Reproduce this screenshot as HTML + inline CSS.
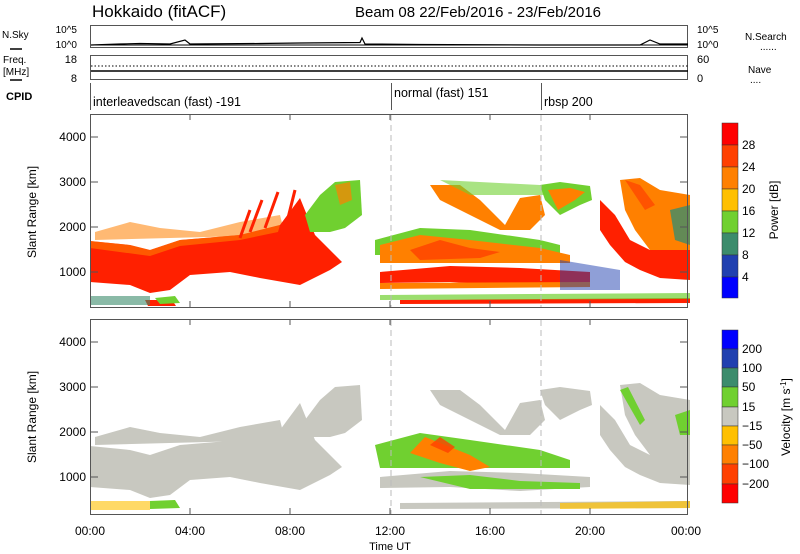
<!DOCTYPE html>
<html><head><meta charset="utf-8"><style>
body{margin:0;background:#fff;}
svg{display:block;font-family:"Liberation Sans",sans-serif;}
</style></head><body>
<svg width="800" height="554" viewBox="0 0 800 554" xmlns="http://www.w3.org/2000/svg">
<defs>
<g id="pw">
 <g fill="#ff8000" opacity="0.55">
  <polygon points="95,232 130,222 160,228 200,232 240,222 280,215 285,235 95,240"/>
 </g>
 <polygon fill="#ff2000" points="90,241 130,245 150,250 180,240 240,235 280,225 300,198 315,235 330,250 342,262 330,270 300,285 260,278 230,272 190,275 170,290 150,293 130,285 90,282"/>
 <polygon fill="#ff8000" opacity="0.6" points="90,241 130,245 150,250 180,240 240,235 280,225 278,232 240,240 180,246 150,256 90,248"/>
 <g stroke="#ff2000" stroke-width="3">
  <line x1="250" y1="232" x2="262" y2="200"/><line x1="265" y1="228" x2="278" y2="192"/><line x1="240" y1="238" x2="250" y2="210"/><line x1="285" y1="230" x2="295" y2="190"/>
 </g>
 <polygon fill="#ff2000" points="145,300 172,300 176,306 148,306"/>
 <polygon fill="#70d030" points="155,298 175,296 180,303 160,304"/>
 <polygon fill="#70d030" points="305,215 320,195 335,182 360,180 362,215 345,228 330,232 310,232"/>
 <polygon fill="#ff8000" opacity="0.7" points="335,185 350,182 352,200 340,205"/>
 <polygon fill="#3c8c6c" opacity="0.6" points="90,296 150,296 150,305 90,305"/>
 <polygon fill="#70d030" points="375,240 420,228 470,230 540,240 560,245 560,255 375,255"/>
 <polygon fill="#ff8000" points="380,245 420,235 470,240 540,248 570,255 570,263 380,263"/>
 <polygon fill="#ff4000" opacity="0.8" points="410,250 440,240 470,248 500,252 480,258 420,260"/>
 <polygon fill="#ff2000" points="380,272 450,266 520,268 590,272 590,282 520,286 450,282 380,283"/>
 <polygon fill="#ff8000" points="380,283 590,282 590,287 380,289"/>
 <polygon fill="#ff2000" points="400,300 690,298 690,303 400,304"/>
 <polygon fill="#70d030" opacity="0.7" points="380,295 690,293 690,299 380,300"/>
 <polygon fill="#ff8000" points="430,185 460,185 480,200 505,225 520,198 540,195 545,215 530,230 500,230 470,215 440,200"/>
 <polygon fill="#70d030" opacity="0.6" points="440,180 540,185 545,195 470,195"/>
 <polygon fill="#2040b0" opacity="0.5" points="560,260 620,270 620,290 560,290"/>
 <polygon fill="#ff2000" points="600,200 615,215 630,240 650,250 690,250 690,280 660,278 640,270 625,262 610,245 600,230"/>
 <polygon fill="#ff8000" points="620,180 640,178 660,190 690,195 690,250 650,250 635,230 625,210"/>
 <polygon fill="#ff4000" opacity="0.7" points="625,180 640,185 655,205 645,210"/>
 <polygon fill="#70d030" points="540,185 560,182 590,186 592,200 580,205 560,215 545,200"/>
 <polygon fill="#ff8000" points="548,190 570,188 585,192 575,200 558,210"/>
 <polygon fill="#3c8c6c" opacity="0.8" points="670,210 690,205 690,245 675,240"/>
</g>
</defs>

<text x="92" y="17" font-size="17">Hokkaido (fitACF)</text>
<text x="355" y="17" font-size="15">Beam 08  22/Feb/2016 - 23/Feb/2016</text>

<!-- N.Sky panel -->
<rect x="90.5" y="25.5" width="597" height="22" fill="none" stroke="#555"/>
<text x="2" y="38" font-size="10">N.Sky</text>
<line x1="10" y1="49" x2="22" y2="49" stroke="#000" stroke-width="1.5"/>
<text x="77" y="33" font-size="10" text-anchor="end">10^5</text>
<text x="77" y="48" font-size="10" text-anchor="end">10^0</text>
<text x="697" y="33" font-size="10">10^5</text>
<text x="697" y="48" font-size="10">10^0</text>
<text x="745" y="40" font-size="10">N.Search</text>
<text x="760" y="50" font-size="10">......</text>
<polyline fill="none" stroke="#000" stroke-width="1.2" points="91,45 120,44 140,43.5 170,44 185,40 190,44 260,43.5 300,43 360,42.5 362,38 365,44 420,44.5 540,45 640,45 650,40 660,44 688,44"/>
<line x1="91" y1="45" x2="688" y2="45" stroke="#000"/>

<!-- Freq panel -->
<rect x="90.5" y="55.5" width="597" height="24" fill="none" stroke="#555"/>
<text x="3" y="63" font-size="10">Freq.</text>
<text x="3" y="75" font-size="10">[MHz]</text>
<line x1="10" y1="80" x2="22" y2="80" stroke="#000" stroke-width="1.5"/>
<text x="77" y="63" font-size="11" text-anchor="end">18</text>
<text x="77" y="82" font-size="11" text-anchor="end">8</text>
<text x="697" y="63" font-size="11">60</text>
<text x="697" y="82" font-size="11">0</text>
<text x="748" y="73" font-size="10">Nave</text>
<text x="750" y="83" font-size="10">....</text>
<line x1="91" y1="66" x2="688" y2="66" stroke="#000" stroke-dasharray="1.5,2"/>
<line x1="91" y1="71" x2="688" y2="71" stroke="#000" stroke-width="1.5"/>

<text x="6" y="100" font-size="11" font-weight="bold">CPID</text>
<line x1="90.5" y1="83" x2="90.5" y2="110" stroke="#555"/>
<line x1="391.5" y1="83" x2="391.5" y2="110" stroke="#555"/>
<line x1="541.5" y1="83" x2="541.5" y2="110" stroke="#555"/>
<text x="93" y="106" font-size="12.5">interleavedscan (fast) -191</text>
<text x="394" y="97" font-size="12.5">normal (fast) 151</text>
<text x="544" y="106" font-size="12.5">rbsp 200</text>

<use href="#pw"/>
<g transform="translate(0,205)">
 <polygon fill="#c8c8c0" points="95,232 130,222 160,228 200,232 240,222 280,215 285,235 95,240"/>
 <polygon fill="#c8c8c0" points="90,241 130,245 150,250 180,240 240,235 280,225 300,198 315,235 330,250 342,262 330,270 300,285 260,278 230,272 190,275 170,290 150,293 130,285 90,282"/>
 <polygon fill="#70d030" points="150,296 175,295 180,303 150,304"/>
 <polygon fill="#c8c8c0" points="305,215 320,195 335,182 360,180 362,215 345,228 330,232 310,232"/>
 <polygon fill="#ffc000" opacity="0.6" points="90,296 150,296 150,305 90,305"/>
 <polygon fill="#70d030" points="375,240 420,228 470,235 540,245 570,255 570,263 380,263"/>
 <polygon fill="#ff8000" points="410,248 425,232 445,240 470,250 490,262 470,266 440,258"/>
 <polygon fill="#ff4000" opacity="0.8" points="430,240 440,232 455,242 448,248"/>
 <polygon fill="#c8c8c0" points="380,272 450,266 520,268 590,272 590,282 520,286 450,282 380,283"/>
 <polygon fill="#70d030" points="420,272 470,270 520,276 580,278 580,284 470,284"/>
 <polygon fill="#c8c8c0" points="400,298 690,296 690,303 400,304"/>
 <polygon fill="#ffc000" opacity="0.7" points="560,298 690,296 690,303 560,304"/>
 <polygon fill="#c8c8c0" points="430,185 460,185 480,200 505,225 520,198 540,195 545,215 530,230 500,230 470,215 440,200"/>
 <polygon fill="#c8c8c0" points="540,185 560,182 590,186 592,200 580,205 560,215 545,200"/>
 <polygon fill="#c8c8c0" points="600,200 615,215 630,240 650,250 690,250 690,280 660,278 640,270 625,262 610,245 600,230"/>
 <polygon fill="#c8c8c0" points="620,180 640,178 660,190 690,195 690,250 650,250 635,230 625,210"/>
 <polygon fill="#70d030" points="620,185 628,182 645,215 640,220"/>
 <polygon fill="#70d030" points="675,210 690,205 690,230 680,230"/>
</g>

<g fill="none" stroke="#555">
 <rect x="90.5" y="114.5" width="597" height="193"/>
 <rect x="90.5" y="319.5" width="597" height="195"/>
</g>
<g stroke="#bbb" stroke-dasharray="6,4">
 <line x1="391" y1="115" x2="391" y2="307"/><line x1="541" y1="115" x2="541" y2="307"/>
 <line x1="391" y1="320" x2="391" y2="514"/><line x1="541" y1="320" x2="541" y2="514"/>
</g>
<g stroke="#555">
 <path d="M90,137h8M90,182h8M90,227h8M90,272h8M688,137h-8M688,182h-8M688,227h-8M688,272h-8"/>
 <path d="M90,342h8M90,387h8M90,432h8M90,477h8M688,342h-8M688,387h-8M688,432h-8M688,477h-8"/>
 <path d="M190,114v6M290,114v6M390,114v6M490,114v6M590,114v6M190,307v-6M290,307v-6M390,307v-6M490,307v-6M590,307v-6"/>
 <path d="M190,319v6M290,319v6M390,319v6M490,319v6M590,319v6M190,514v-6M290,514v-6M390,514v-6M490,514v-6M590,514v-6"/>
</g>
<g font-size="12" text-anchor="end">
 <text x="86" y="141">4000</text><text x="86" y="186">3000</text><text x="86" y="231">2000</text><text x="86" y="276">1000</text>
 <text x="86" y="346">4000</text><text x="86" y="391">3000</text><text x="86" y="436">2000</text><text x="86" y="481">1000</text>
</g>
<text transform="translate(36,212) rotate(-90)" font-size="12" text-anchor="middle">Slant Range [km]</text>
<text transform="translate(36,417) rotate(-90)" font-size="12" text-anchor="middle">Slant Range [km]</text>
<g font-size="12" text-anchor="middle">
 <text x="90" y="535">00:00</text><text x="190" y="535">04:00</text><text x="290" y="535">08:00</text>
 <text x="390" y="535">12:00</text><text x="490" y="535">16:00</text><text x="590" y="535">20:00</text><text x="686" y="535">00:00</text>
 <text x="390" y="550" font-size="11">Time UT</text>
</g>

<g stroke="#333" stroke-width="0.5">
 <rect x="722" y="123" width="16" height="22" fill="#ff0000"/>
 <rect x="722" y="145" width="16" height="22" fill="#ff4000"/>
 <rect x="722" y="167" width="16" height="22" fill="#ff8000"/>
 <rect x="722" y="189" width="16" height="22" fill="#ffc000"/>
 <rect x="722" y="211" width="16" height="22" fill="#70d030"/>
 <rect x="722" y="233" width="16" height="22" fill="#3c8c6c"/>
 <rect x="722" y="255" width="16" height="22" fill="#2040b0"/>
 <rect x="722" y="277" width="16" height="21" fill="#0000ff"/>
</g>
<g font-size="12">
 <text x="742" y="149">28</text><text x="742" y="171">24</text><text x="742" y="193">20</text><text x="742" y="215">16</text>
 <text x="742" y="237">12</text><text x="742" y="259">8</text><text x="742" y="281">4</text>
</g>
<text transform="translate(778,210) rotate(-90)" font-size="12" text-anchor="middle">Power [dB]</text>

<g stroke="#333" stroke-width="0.5">
 <rect x="722" y="330" width="16" height="19" fill="#0000ff"/>
 <rect x="722" y="349" width="16" height="19" fill="#2040b0"/>
 <rect x="722" y="368" width="16" height="19" fill="#3c8c6c"/>
 <rect x="722" y="387" width="16" height="20" fill="#70d030"/>
 <rect x="722" y="407" width="16" height="19" fill="#c8c8c0"/>
 <rect x="722" y="426" width="16" height="19" fill="#ffc000"/>
 <rect x="722" y="445" width="16" height="19" fill="#ff8000"/>
 <rect x="722" y="464" width="16" height="20" fill="#ff4000"/>
 <rect x="722" y="484" width="16" height="19" fill="#ff0000"/>
</g>
<g font-size="12">
 <text x="742" y="353">200</text><text x="742" y="372">100</text><text x="742" y="391">50</text><text x="742" y="411">15</text>
 <text x="742" y="430">−15</text><text x="742" y="449">−50</text><text x="742" y="468">−100</text><text x="742" y="488">−200</text>
</g>
<text transform="translate(790,417) rotate(-90)" font-size="12" text-anchor="middle">Velocity [m s<tspan dy="-4" font-size="8">-1</tspan><tspan dy="4">]</tspan></text>
</svg>
</body></html>
